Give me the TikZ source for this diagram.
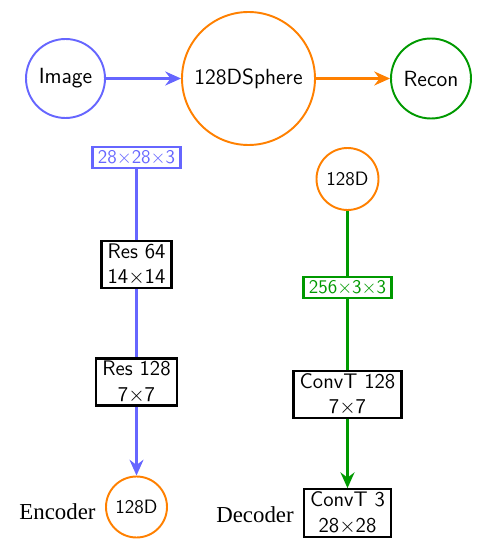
\documentclass[tikz,border=0pt]{standalone}
\usepackage{fontspec}
\newfontfamily\labelfont{Liberation Serif}
\usepackage{tikz}
\usetikzlibrary{positioning, arrows, arrows.meta}

\begin{document}
\begin{tikzpicture}[
  font=\sffamily,
  ball/.style={circle, line width=1.1pt, inner sep=0pt, text=black, font=\sffamily\fontsize{11}{13}\selectfont},
  layer/.style={draw=black, line width=1.3pt, align=center, inner xsep=3.5pt, inner ysep=1.5pt, font=\sffamily\fontsize{12}{14.5}\selectfont},
  dims/.style={draw, line width=1.3pt, inner xsep=3pt, inner ysep=2pt, font=\sffamily\fontsize{11}{13}\selectfont},
  flow/.style={line width=1.2pt},
  tip/.style={-{Stealth[length=9pt,width=8pt,inset=3pt]}}
]
\useasboundingbox (0,0) rectangle (9.56,11.02);
% top row
\node[ball, draw=blue!60, minimum size=1.58cm, font=\sffamily\fontsize{12.5}{15}\selectfont] (img) at (1.31,9.45) {Image};
\node[ball, draw=orange, minimum size=2.66cm, font=\sffamily\fontsize{12.5}{15}\selectfont] (sphere) at (4.97,9.45) {128DSphere};
\node[ball, draw=green!60!black, minimum size=1.6cm, font=\sffamily\fontsize{12.5}{15}\selectfont] (recon) at (8.62,9.45) {Recon};
\draw[flow, tip, blue!60] (img) -- (sphere);
\draw[flow, tip, orange] (sphere) -- (recon);
% encoder
\node[dims, draw=blue!60, text=blue!60] (inshape) at (2.73,7.87) {28$\times$28$\times$3};
\node[layer] (res64) at (2.73,5.73) {Res 64\\14$\times$14};
\node[layer] (res128) at (2.73,3.38) {Res 128\\7$\times$7};
\node[ball, draw=orange, minimum size=1.22cm] (enc) at (2.73,0.88) {128D};
\node[font=\labelfont\fontsize{13}{15}\selectfont] (enclabel) at (1.15,0.78) {Encoder};
\draw[flow, blue!60] (inshape) -- (res64);
\draw[flow, blue!60] (res64) -- (res128);
\draw[flow, tip, blue!60] (res128) -- (enc);
% decoder
\node[ball, draw=orange, minimum size=1.24cm] (latent) at (6.95,7.44) {128D};
\node[dims, draw=green!60!black, text=green!60!black] (dshape) at (6.95,5.27) {256$\times$3$\times$3};
\node[layer] (convt128) at (6.95,3.13) {ConvT 128\\7$\times$7};
\node[layer] (convt3) at (6.95,0.76) {ConvT 3\\28$\times$28};
\node[font=\labelfont\fontsize{13}{15}\selectfont] (declabel) at (5.1,0.72) {Decoder};
\draw[flow, green!60!black] (latent) -- (dshape);
\draw[flow, green!60!black] (dshape) -- (convt128);
\draw[flow, tip, green!60!black] (convt128) -- (convt3);
\end{tikzpicture}
\end{document}
